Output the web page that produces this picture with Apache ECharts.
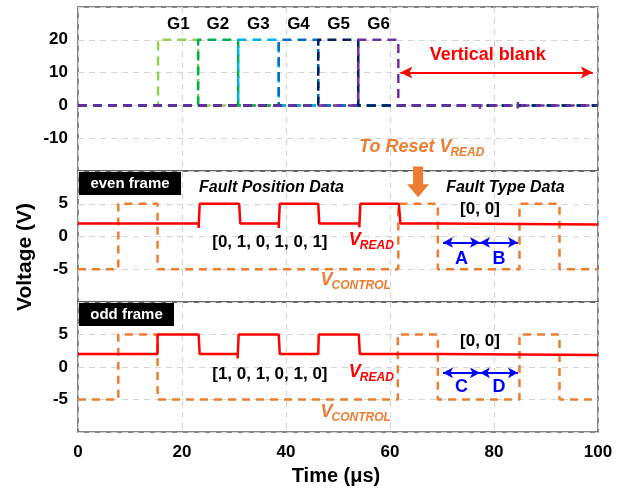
<!DOCTYPE html>
<html><head><meta charset="utf-8">
<script src="https://cdn.jsdelivr.net/npm/echarts@6/dist/echarts.min.js"></script>
<style>html,body{margin:0;padding:0;background:#fff}#c{width:618px;height:488px}</style>
</head><body><div id="c"></div>
<script>
// ---------- data ----------
const xTicks = [0, 20, 40, 60, 80, 100];
const gateNames = ['G1', 'G2', 'G3', 'G4', 'G5', 'G6'];
const gateColors = ['#92D050', '#00B050', '#00B0F0', '#0070C0', '#002060', '#7030A0'];
const g1 = [[0,0],[15.4,0],[15.4,20],[23.1,20],[23.1,0],[100,0]];
const g2 = [[0,0],[23.1,0],[23.1,20],[30.8,20],[30.8,0],[100,0]];
const g3 = [[0,0],[30.8,0],[30.8,20],[38.6,20],[38.6,0],[100,0]];
const g4 = [[0,0],[38.6,0],[38.6,20],[46.2,20],[46.2,0],[100,0]];
const g5 = [[0,0],[46.2,0],[46.2,20],[53.9,20],[53.9,0],[100,0]];
const g6 = [[0,0],[53.9,0],[53.9,20],[61.6,20],[61.6,0],[77.3,0],[77.3,1],[77.3,-1],[77.3,0],[84.6,0],[84.6,1],[84.6,-1],[84.6,0],[100,0]];
const gateSeries = [g1, g2, g3, g4, g5, g6];
const gateLabelX = [19.3, 26.9, 34.7, 42.4, 50.1, 57.8];

const evenRead = [[0,2],[23.2,2],[23.2,1.3],[23.4,5],[31.0,5],[31.2,2],[38.6,2],[38.6,1.3],[38.8,5],[46.2,5],[46.4,2],[54.1,2],[54.1,1.4],[54.3,5],[61.7,5],[62.0,2],[69.2,2],[69.2,1.85],[100,1.85]];
const oddRead  = [[0,2],[15.3,2],[15.3,5],[23.2,5],[23.4,2],[30.7,2],[30.7,1.3],[30.9,5],[38.6,5],[38.8,2],[46.2,2],[46.3,5],[54.0,5],[54.2,2],[69.2,2],[69.2,1.85],[100,1.85]];
const evenControl = [[0,-5],[7.75,-5],[7.75,5],[15.3,5],[15.3,-5],[61.6,-5],[61.6,5],[69.2,5],[69.2,-5],[84.9,-5],[84.9,5],[92.6,5],[92.6,-5],[100,-5]];
const oddControl  = [[0,-5],[7.75,-5],[7.75,5],[15.3,5],[15.3,-5],[61.5,-5],[61.5,5],[69.2,5],[69.2,-5],[84.9,-5],[84.9,5],[92.6,5],[92.6,-5],[100,-5]];

const evenBits = '[0, 1, 0, 1, 0, 1]';
const oddBits = '[1, 0, 1, 0, 1, 0]';
const typeBits = '[0, 0]';
const evenArrows = [[70.2, 77.3, 'A'], [77.3, 84.6, 'B']];
const oddArrows  = [[70.2, 77.3, 'C'], [77.3, 84.6, 'D']];

// ---------- chart ----------
const FF = 'Liberation Sans, Arial, sans-serif';
const chart = echarts.init(document.getElementById('c'), null, {renderer: 'canvas'});
const RED = '#FF0000', ORANGE = '#ED7D31', BLUE = '#0000FF';

const grids = [
  {left: 78, right: 20, top: 7, height: 164},
  {left: 78, right: 20, top: 171, height: 131},
  {left: 78, right: 20, top: 302, height: 130}
].map(g => Object.assign(g, {show: true, borderColor: '#5E5E5E', borderWidth: 1.5, backgroundColor: 'transparent'}));

const splitLine = {show: true, lineStyle: {color: '#D6D6D6', type: [6, 5], width: 1.2}};
const tickFont = {fontFamily: FF, fontWeight: 'bold', fontSize: 17, color: '#000'};

const xAxes = [0,1,2].map(i => ({
  type: 'value', gridIndex: i, min: 0, max: 100, interval: 20,
  axisLine: {show: false}, axisTick: {show: false}, splitLine,
  axisLabel: Object.assign({show: i === 2, margin: 12}, tickFont)
}));
const yAxes = [
  {min: -20, max: 30, interval: 10, hide: [-20, 30]},
  {min: -10, max: 10, interval: 5, hide: [-10, 10]},
  {min: -10, max: 10, interval: 5, hide: [-10, 10]}
].map((a, i) => ({
  type: 'value', gridIndex: i, min: a.min, max: a.max, interval: a.interval,
  axisLine: {show: false}, axisTick: {show: false}, splitLine,
  axisLabel: Object.assign({margin: 10, formatter: v => a.hide.includes(v) ? '' : String(v)}, tickFont)
}));

const series = [];
gateSeries.forEach((d, i) => series.push({
  type: 'line', xAxisIndex: 0, yAxisIndex: 0, data: d, symbol: 'none', animation: false,
  lineStyle: {color: gateColors[i], width: 2.5, type: [9, 6]}, z: 3 + i
}));
// vertical blank arrow
series[5].markLine = {
  silent: true, animation: false, symbol: ['arrow', 'arrow'], symbolSize: [9, 12],
  label: {show: false}, lineStyle: {color: RED, width: 2, type: 'solid'},
  data: [[{coord: [62, 10]}, {coord: [99, 10]}]]
};
function frameSeries(idx, read, control, arrows) {
  series.push({
    type: 'line', xAxisIndex: idx, yAxisIndex: idx, data: control, symbol: 'none', animation: false,
    lineStyle: {color: ORANGE, width: 2.5, type: [8, 6]}, z: 3
  });
  series.push({
    type: 'line', xAxisIndex: idx, yAxisIndex: idx, data: read, symbol: 'none', animation: false,
    lineStyle: {color: RED, width: 2.5}, z: 4,
    markLine: {
      silent: true, animation: false, symbol: ['arrow', 'arrow'], symbolSize: [8, 10],
      label: {show: false}, lineStyle: {color: BLUE, width: 2, type: 'solid'},
      data: arrows.map(a => [{coord: [a[0], -0.9]}, {coord: [a[1], -0.9]}])
    }
  });
}
frameSeries(1, evenRead, evenControl, evenArrows);
frameSeries(2, oddRead, oddControl, oddArrows);

chart.setOption({
  animation: false,
  grid: grids, xAxis: xAxes, yAxis: yAxes, series
});

// ---------- annotations (positions from data coords) ----------
const P = (g, x, y) => chart.convertToPixel({gridIndex: g}, [x, y]);
const ctx = document.createElement('canvas').getContext('2d');
function tw(txt, font) { ctx.font = font; return ctx.measureText(txt).width; }

const G = [];
function txt(g, x, y, s, o) {
  const p = P(g, x, y);
  G.push({type: 'text', x: p[0], y: p[1], z: 100, style: Object.assign({
    text: s, fill: '#000', fontFamily: FF, fontWeight: 'bold', fontSize: 17,
    textAlign: 'center', textVerticalAlign: 'middle'}, o || {})});
}
function subTxt(g, x, y, main, sub, color, mSize, sSize) {
  const p = P(g, x, y);
  const f1 = 'italic bold ' + mSize + 'px ' + FF, f2 = 'italic bold ' + sSize + 'px ' + FF;
  const w1 = tw(main, f1), w2 = tw(sub, f2);
  const x0 = p[0] - (w1 + w2) / 2;
  G.push({type: 'text', x: x0, y: p[1], z: 100, style: {text: main, fill: color, fontFamily: FF,
    fontWeight: 'bold', fontStyle: 'italic', fontSize: mSize, textAlign: 'left', textVerticalAlign: 'middle'}});
  G.push({type: 'text', x: x0 + w1 - 1, y: p[1] + mSize * 0.3, z: 100, style: {text: sub, fill: color, fontFamily: FF,
    fontWeight: 'bold', fontStyle: 'italic', fontSize: sSize, textAlign: 'left', textVerticalAlign: 'middle'}});
}

// top panel
gateNames.forEach((n, i) => txt(0, gateLabelX[i], 24.8, n, {fontSize: 17}));
txt(0, 78.8, 15.4, 'Vertical blank', {fill: RED, fontSize: 18});
// "To Reset V_READ"
(function () {
  const p = P(0, 66.2, -12.8);
  const f1 = 'italic bold 18px ' + FF, f2 = 'italic bold 12px ' + FF;
  const w1 = tw('To Reset V', f1), w2 = tw('READ', f2);
  const x0 = p[0] - (w1 + w2) / 2;
  G.push({type: 'text', x: x0, y: p[1], z: 100, style: {text: 'To Reset V', fill: ORANGE, fontFamily: FF,
    fontWeight: 'bold', fontStyle: 'italic', fontSize: 18, textAlign: 'left', textVerticalAlign: 'middle'}});
  G.push({type: 'text', x: x0 + w1 - 1, y: p[1] + 5, z: 100, style: {text: 'READ', fill: ORANGE, fontFamily: FF,
    fontWeight: 'bold', fontStyle: 'italic', fontSize: 12, textAlign: 'left', textVerticalAlign: 'middle'}});
})();
// orange block arrow
(function () {
  const top = P(0, 65.4, -18.6), bot = P(1, 65.4, 6.0);
  const cx = top[0], bw = 5, hw = 11, headH = 13;
  G.push({type: 'polygon', z: 100, shape: {points: [
    [cx - bw, top[1]], [cx + bw, top[1]], [cx + bw, bot[1] - headH], [cx + hw, bot[1] - headH],
    [cx, bot[1]], [cx - hw, bot[1] - headH], [cx - bw, bot[1] - headH]]}, style: {fill: ORANGE}});
})();

// frame boxes
function frameBox(g, label, w) {
  const p = P(g, 0, 10);
  G.push({type: 'rect', z: 100, shape: {x: p[0] + 1, y: p[1] + 1, width: w, height: 23}, style: {fill: '#000'}});
  G.push({type: 'text', z: 101, x: p[0] + 1 + w / 2, y: p[1] + 12.5, style: {text: label, fill: '#fff', fontFamily: FF,
    fontWeight: 'bold', fontSize: 15, textAlign: 'center', textVerticalAlign: 'middle'}});
}
frameBox(1, 'even frame', 102);
frameBox(2, 'odd frame', 95);

// middle panel
txt(1, 37.2, 7.5, 'Fault Position Data', {fontStyle: 'italic', fontSize: 16});
txt(1, 82.2, 7.5, 'Fault Type Data', {fontStyle: 'italic', fontSize: 16});
txt(1, 36.9, -0.9, evenBits, {fontSize: 17});
txt(1, 77.3, 4.1, typeBits, {fontSize: 17});
subTxt(1, 56.5, -0.6, 'V', 'READ', RED, 18, 12);
subTxt(1, 53.5, -6.7, 'V', 'CONTROL', ORANGE, 18, 12);
evenArrows.forEach(a => txt(1, (a[0] + a[1]) / 2, -3.4, a[2], {fill: BLUE, fontSize: 18}));

// bottom panel
txt(2, 36.9, -1.1, oddBits, {fontSize: 17});
txt(2, 77.3, 4.0, typeBits, {fontSize: 17});
subTxt(2, 56.5, -0.8, 'V', 'READ', RED, 18, 12);
subTxt(2, 53.5, -7.0, 'V', 'CONTROL', ORANGE, 18, 12);
oddArrows.forEach(a => txt(2, (a[0] + a[1]) / 2, -3.1, a[2], {fill: BLUE, fontSize: 18}));

// axis titles
G.push({type: 'text', z: 100, x: 25, y: 257, rotation: Math.PI / 2, style: {text: 'Voltage (V)', fill: '#000',
  fontFamily: FF, fontWeight: 'bold', fontSize: 21, textAlign: 'center', textVerticalAlign: 'middle'}});
(function () {
  const p = P(2, 50, -10);
  G.push({type: 'text', z: 100, x: p[0] - 2, y: 476, style: {text: 'Time (μs)', fill: '#000',
    fontFamily: FF, fontWeight: 'bold', fontSize: 20, textAlign: 'center', textVerticalAlign: 'middle'}});
})();

chart.setOption({graphic: G});
</script></body></html>
